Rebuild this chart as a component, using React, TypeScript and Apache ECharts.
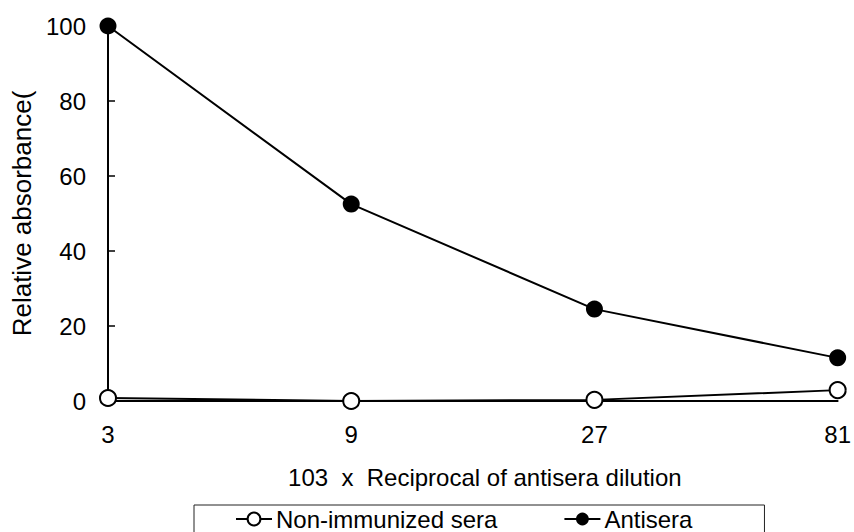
import React, { useEffect, useRef } from "react";
import * as echarts from "echarts";

const categories = ["3", "9", "27", "81"];
const nonImmunized = [0.8, 0, 0.3, 2.9];
const antisera = [100, 52.5, 24.5, 11.5];
const yTicks = { min: 0, max: 100, interval: 20 };
const xTitle = "103  x  Reciprocal of antisera dilution";
const yTitle = "Relative absorbance(";
const seriesNames = ["Non-immunized sera", "Antisera"];

const FONT = "Liberation Sans, Arial, sans-serif";

export default function App() {
  const ref = useRef<HTMLDivElement>(null);
  useEffect(() => {
    if (!ref.current) return;
    const chart = echarts.init(ref.current, null, { renderer: "svg" });
    chart.setOption({
      animation: false,
      backgroundColor: "#ffffff",
      textStyle: { fontFamily: FONT, color: "#000" },
      grid: { left: 108, right: 12, top: 26, bottom: 131, containLabel: false },
      legend: {
        left: 194,
        top: 505,
        orient: "horizontal",
        padding: [2, 72, 40, 41],
        itemGap: 66,
        itemWidth: 36,
        itemHeight: 16,
        borderColor: "#222",
        borderWidth: 1,
        borderRadius: 0,
        textStyle: { fontFamily: FONT, fontSize: 24, color: "#000", lineHeight: 24, padding: [0, 0, 0, -1] },
        data: seriesNames,
      },
      xAxis: {
        type: "category",
        data: categories,
        boundaryGap: false,
        axisLine: { show: true, lineStyle: { color: "#000", width: 2 } },
        axisTick: { show: false },
        axisLabel: { fontFamily: FONT, fontSize: 24, color: "#000", margin: 21 },
        splitLine: { show: false },
        name: xTitle,
        nameLocation: "middle",
        nameGap: 64,
        nameTextStyle: { fontFamily: FONT, fontSize: 24, color: "#000", padding: [0, 0, 0, 24] },
      },
      yAxis: {
        type: "value",
        min: yTicks.min,
        max: yTicks.max,
        interval: yTicks.interval,
        axisLine: { show: true, lineStyle: { color: "#000", width: 2 } },
        axisTick: { show: true, inside: true, length: 7, lineStyle: { color: "#000", width: 1.5 } },
        axisLabel: { fontFamily: FONT, fontSize: 24, color: "#000", margin: 22 },
        splitLine: { show: false },
        name: yTitle,
        nameLocation: "middle",
        nameGap: 72,
        nameTextStyle: { fontFamily: FONT, fontSize: 26, color: "#000" },
      },
      series: [
        {
          name: seriesNames[0],
          type: "line",
          data: nonImmunized,
          symbol: "emptyCircle",
          symbolSize: 16,
          lineStyle: { color: "#000", width: 2 },
          itemStyle: { color: "#000", borderColor: "#000", borderWidth: 2 },
          z: 3,
        },
        {
          name: seriesNames[1],
          type: "line",
          data: antisera,
          symbol: "circle",
          symbolSize: 17,
          lineStyle: { color: "#000", width: 2 },
          itemStyle: { color: "#000" },
          z: 4,
        },
      ],
    });
    return () => chart.dispose();
  }, []);
  return <div ref={ref} style={{ width: 854, height: 532, position: "absolute", left: 0, top: 0 }} />;
}
